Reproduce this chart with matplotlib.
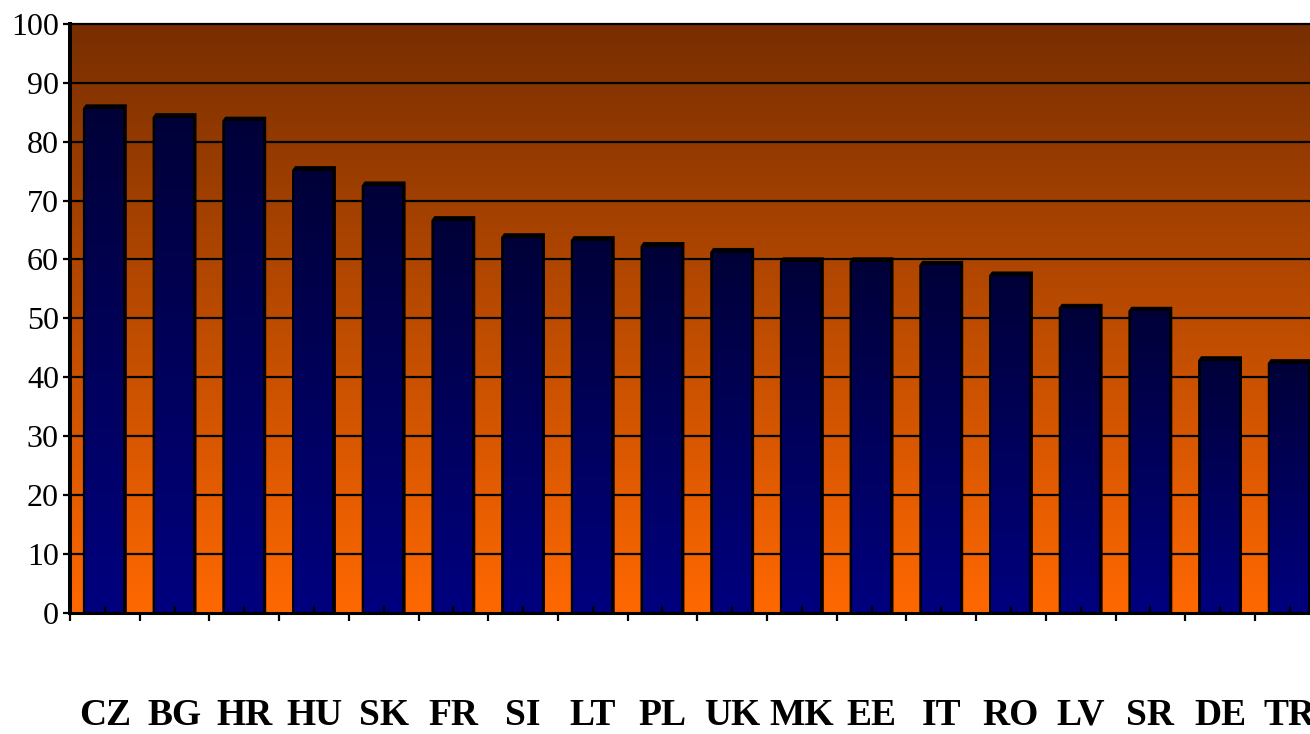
import numpy as np
import matplotlib
matplotlib.use("Agg")
import matplotlib.pyplot as plt
from matplotlib.patches import Polygon
from matplotlib.colors import LinearSegmentedColormap

# Country codes and their scores (front face height of each column)
countries = ["CZ", "BG", "HR", "HU", "SK", "FR", "SI", "LT", "PL",
             "UK", "MK", "EE", "IT", "RO", "LV", "SR", "DE", "TR"]
scores = [85.4, 83.9, 83.3, 74.9, 72.3, 66.4, 63.5, 63.0, 62.0,
          61.0, 59.4, 59.4, 58.8, 57.0, 51.5, 51.0, 42.6, 42.1]
y_ticks = list(range(0, 101, 10))

W, H = 1310, 734
fig = plt.figure(figsize=(W / 100, H / 100), dpi=100, facecolor="white")

n = len(countries)
step_px = 69.7
left_px, zero_px, top_px = 70.0, 612.5, 24.0
ax = fig.add_axes([left_px / W, (H - zero_px) / H,
                   n * step_px / W, (zero_px - top_px) / H])
ax.set_xlim(-0.5, n - 0.5)
ax.set_ylim(0, 100)

# plot-area background: brown at top fading to orange at the bottom
bg_cmap = LinearSegmentedColormap.from_list("bg", ["#ff6800", "#782e00"])
grad = np.linspace(0, 1, 256).reshape(-1, 1)
ax.imshow(grad, cmap=bg_cmap, origin="lower", aspect="auto",
          extent=(-0.5, n - 0.5, 0, 100), zorder=0, interpolation="bilinear")

# horizontal gridlines
for v in y_ticks[1:]:
    ax.axhline(v, color="black", lw=1.6, zorder=1, clip_on=False)

# columns: black top/side silhouette with a navy gradient front face
bar_cmap = LinearSegmentedColormap.from_list("bar", ["#00007f", "#000038"])
half = 0.315
px = 1.0 / step_px
depth = 0.95
for i, v in enumerate(scores):
    xl, xr = i - half, i + half
    sil = Polygon([(xl, 0), (xl, v + 0.25), (xl + 3 * px, v + depth),
                   (xr, v + depth), (xr, 0)], closed=True,
                  facecolor="black", edgecolor="none", zorder=1.5)
    ax.add_patch(sil)
    ax.imshow(grad, cmap=bar_cmap, origin="lower", aspect="auto",
              extent=(xl + 2.5 * px, xr - 4 * px, 0, v), zorder=1.6,
              interpolation="bilinear")

ax.set_axisbelow(False)
for s in ("top", "right"):
    ax.spines[s].set_visible(False)
ax.spines["left"].set_linewidth(2.9)
ax.spines["bottom"].set_linewidth(2.2)

serif = ["Liberation Serif", "DejaVu Serif"]

ax.set_yticks(y_ticks)
ax.set_yticklabels([str(t) for t in y_ticks], family=serif, fontsize=23)
ax.tick_params(axis="y", direction="out", length=5, width=1.6, pad=3,
               colors="black")

# category boundaries as outward ticks, labels at column centres
ax.set_xticks(np.arange(-0.5, n, 1.0))
ax.set_xticklabels([])
ax.tick_params(axis="x", which="major", direction="out", length=6, width=1.6)
ax.set_xticks(np.arange(n), countries, minor=True)
ax.tick_params(axis="x", which="minor", direction="in", length=5, width=1.6,
               pad=86.5)
for lab in ax.get_xticklabels(minor=True):
    lab.set_family(serif)
    lab.set_fontsize(27)
    lab.set_fontweight("bold")
    lab.set_verticalalignment("bottom")

fig.savefig("out.png", dpi=100, facecolor="white")
